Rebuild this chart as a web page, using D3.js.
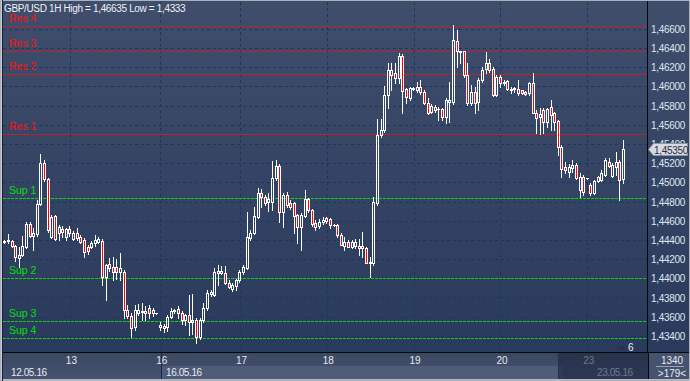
<!DOCTYPE html>
<html><head><meta charset="utf-8">
<script src="https://cdn.jsdelivr.net/npm/d3@7"></script>
<style>html,body{margin:0;padding:0;background:#3b4a67;overflow:hidden}svg{display:block}</style>
</head><body><svg id="c" width="690" height="381"></svg>
<script>
// ---- DATA ----
const opens=[1.44377,1.44388,1.44388,1.44335,1.44211,1.44242,1.44325,1.44564,1.44439,1.44460,1.44773,1.45201,1.45033,1.44429,1.44648,1.44471,1.44512,1.44429,1.44512,1.44408,1.44471,1.44429,1.44398,1.44325,1.44325,1.44367,1.44377,1.44388,1.44012,1.44147,1.44116,1.44116,1.44064,1.44064,1.43668,1.43606,1.43491,1.43637,1.43658,1.43637,1.43689,1.43668,1.43637,1.43491,1.43502,1.43491,1.43595,1.43658,1.43679,1.43637,1.43564,1.43616,1.43543,1.43564,1.43387,1.43564,1.43689,1.43835,1.43824,1.44054,1.44054,1.44054,1.43950,1.43887,1.43918,1.43981,1.44064,1.44106,1.44419,1.44471,1.44637,1.44888,1.44846,1.44794,1.44794,1.45044,1.45169,1.44690,1.44867,1.44783,1.44783,1.44658,1.44533,1.44648,1.44825,1.44710,1.44575,1.44543,1.44585,1.44627,1.44616,1.44554,1.44554,1.44450,1.44335,1.44377,1.44325,1.44335,1.44335,1.44335,1.44315,1.44158,1.44158,1.44783,1.45492,1.45544,1.45909,1.46117,1.46138,1.46086,1.46315,1.45971,1.45878,1.45971,1.45961,1.45992,1.45940,1.45825,1.45732,1.45784,1.45763,1.45763,1.45679,1.45836,1.45836,1.46472,1.46367,1.46367,1.46117,1.45825,1.45940,1.45836,1.46065,1.46180,1.46242,1.46180,1.45909,1.46096,1.46034,1.46054,1.45971,1.45971,1.45971,1.45961,1.45940,1.45930,1.46034,1.45721,1.45679,1.45753,1.45627,1.45784,1.45721,1.45638,1.45367,1.45158,1.45106,1.45148,1.45179,1.44919,1.45054,1.45044,1.44971,1.44888,1.45013,1.45023,1.45075,1.45211,1.45065,1.45158,1.45211,1.45033];
const highs=[1.44398,1.44460,1.44398,1.44346,1.44325,1.44439,1.44585,1.44585,1.44523,1.44815,1.45294,1.45232,1.45044,1.44658,1.44658,1.44554,1.44543,1.44523,1.44543,1.44491,1.44523,1.44450,1.44419,1.44346,1.44388,1.44450,1.44429,1.44408,1.44147,1.44211,1.44221,1.44200,1.44263,1.44085,1.43720,1.43637,1.43720,1.43731,1.43741,1.43710,1.43720,1.43689,1.43637,1.43543,1.43523,1.43616,1.43689,1.43679,1.43710,1.43658,1.43627,1.43824,1.43835,1.43585,1.43585,1.43741,1.43877,1.43877,1.44106,1.44137,1.44127,1.44127,1.43981,1.43950,1.43992,1.44085,1.44137,1.44690,1.44502,1.44742,1.44940,1.44929,1.44867,1.44888,1.45221,1.45232,1.45190,1.44888,1.44898,1.44815,1.44794,1.44669,1.44679,1.44919,1.44836,1.44721,1.44606,1.44616,1.44637,1.44637,1.44627,1.44564,1.44564,1.44471,1.44429,1.44398,1.44398,1.44408,1.44408,1.44481,1.44325,1.44221,1.44846,1.45659,1.45659,1.46003,1.46242,1.46242,1.46242,1.46347,1.46336,1.45982,1.45992,1.45992,1.46044,1.46065,1.45961,1.45878,1.45815,1.45805,1.45784,1.45773,1.45878,1.46044,1.46635,1.46586,1.46367,1.46367,1.46242,1.46013,1.45992,1.46086,1.46201,1.46357,1.46284,1.46201,1.46117,1.46117,1.46065,1.46065,1.45992,1.45992,1.46065,1.45961,1.45950,1.46044,1.46138,1.45753,1.45773,1.45773,1.45773,1.45857,1.45732,1.45648,1.45388,1.45211,1.45190,1.45232,1.45200,1.45096,1.45075,1.45044,1.44992,1.45023,1.45065,1.45127,1.45252,1.45252,1.45200,1.45315,1.45232,1.45440];
const lows=[1.44367,1.44367,1.44325,1.44179,1.44116,1.44231,1.44315,1.44429,1.44294,1.44439,1.44763,1.45013,1.44481,1.44419,1.44398,1.44398,1.44429,1.44398,1.44439,1.44398,1.44398,1.44367,1.44221,1.44252,1.44315,1.44335,1.44367,1.43929,1.43772,1.44075,1.43981,1.43992,1.43981,1.43585,1.43585,1.43387,1.43460,1.43616,1.43564,1.43564,1.43585,1.43606,1.43627,1.43460,1.43439,1.43450,1.43585,1.43637,1.43585,1.43523,1.43512,1.43408,1.43419,1.43330,1.43367,1.43543,1.43668,1.43814,1.43814,1.43929,1.44043,1.43939,1.43898,1.43866,1.43877,1.43960,1.44043,1.44095,1.44398,1.44460,1.44627,1.44742,1.44763,1.44700,1.44710,1.45023,1.44585,1.44533,1.44742,1.44721,1.44471,1.44367,1.44294,1.44637,1.44690,1.44543,1.44502,1.44523,1.44564,1.44575,1.44523,1.44543,1.44429,1.44346,1.44294,1.44325,1.44315,1.44315,1.44242,1.44221,1.44158,1.44012,1.44137,1.44763,1.45471,1.45523,1.45773,1.45961,1.46034,1.46034,1.45721,1.45825,1.45857,1.45961,1.45940,1.45919,1.45815,1.45711,1.45721,1.45732,1.45648,1.45648,1.45617,1.45627,1.45815,1.46201,1.46242,1.46096,1.45805,1.45805,1.45721,1.45753,1.46044,1.46138,1.46149,1.45898,1.45898,1.45992,1.46013,1.45961,1.45930,1.45940,1.45909,1.45919,1.45909,1.45909,1.45721,1.45513,1.45502,1.45513,1.45575,1.45544,1.45544,1.45284,1.45054,1.45096,1.45054,1.45106,1.45033,1.44846,1.44867,1.45033,1.44867,1.44877,1.45008,1.45013,1.45065,1.45158,1.45054,1.45075,1.44815,1.44992];
const closes=[1.44388,1.44398,1.44335,1.44221,1.44242,1.44335,1.44564,1.44439,1.44471,1.44773,1.45201,1.45033,1.44502,1.44637,1.44408,1.44533,1.44481,1.44512,1.44471,1.44471,1.44419,1.44377,1.44273,1.44283,1.44367,1.44398,1.44408,1.44012,1.44137,1.44106,1.44064,1.44064,1.44106,1.43668,1.43606,1.43481,1.43668,1.43668,1.43647,1.43658,1.43637,1.43637,1.43637,1.43512,1.43481,1.43595,1.43658,1.43668,1.43637,1.43564,1.43616,1.43543,1.43564,1.43387,1.43564,1.43689,1.43845,1.43856,1.44064,1.44075,1.44075,1.43950,1.43908,1.43929,1.43981,1.44064,1.44116,1.44429,1.44471,1.44648,1.44888,1.44846,1.44783,1.44825,1.45044,1.45169,1.44690,1.44867,1.44763,1.44742,1.44648,1.44533,1.44658,1.44825,1.44710,1.44564,1.44533,1.44585,1.44606,1.44596,1.44554,1.44554,1.44450,1.44346,1.44377,1.44325,1.44377,1.44377,1.44315,1.44315,1.44158,1.44169,1.44794,1.45492,1.45544,1.45909,1.46169,1.46169,1.46086,1.46315,1.45951,1.45888,1.45982,1.45982,1.45992,1.45940,1.45825,1.45721,1.45794,1.45753,1.45763,1.45679,1.45857,1.45857,1.46482,1.46367,1.46362,1.46117,1.45825,1.45940,1.45825,1.46065,1.46169,1.46242,1.46169,1.45909,1.46096,1.46034,1.46044,1.45971,1.45966,1.45982,1.45930,1.45930,1.45919,1.46034,1.45721,1.45669,1.45711,1.45627,1.45763,1.45700,1.45627,1.45367,1.45138,1.45127,1.45158,1.45179,1.45044,1.45054,1.44898,1.45040,1.44888,1.45013,1.45054,1.45096,1.45232,1.45169,1.45179,1.45211,1.45023,1.45350];
const priceTicks=[1.434,1.436,1.438,1.440,1.442,1.444,1.446,1.448,1.450,1.452,1.454,1.456,1.458,1.460,1.462,1.464,1.466];
const dayTickIndex=[18,43,65,89,113,137,161];
const dayTickLabels=["13","16","17","18","19","20","23"];
const levelNames=["Res 4","Res 3","Res 2","Res 1","Sup 1","Sup 2","Sup 3","Sup 4"];
const levelValues=[1.4663,1.4637,1.4613,1.4550,1.4484,1.4400,1.4355,1.4338];
const lastPrice=1.45350;
const titleText="GBP/USD 1H High = 1,46635 Low = 1,4333";

// ---- LAYOUT ----
const svg=d3.select('#c');
const P={x0:3,x1:647,y0:2,y1:352};
const x=d3.scaleLinear().domain([-0.5,177.5]).range([P.x0,P.x1]);
const y=d3.scaleLinear().domain([1.434,1.466]).range([335.9,28.7]);
const fmt=v=>v.toFixed(5).replace('.',',');
const FONT='"Liberation Sans", Arial, sans-serif';

const defs=svg.append('defs');
const g1=defs.append('linearGradient').attr('id','bg').attr('x1',0).attr('y1',0).attr('x2',0).attr('y2',1);
g1.append('stop').attr('offset','0%').attr('stop-color','#3f4e6b');
g1.append('stop').attr('offset','100%').attr('stop-color','#2a3a5c');
const g2=defs.append('linearGradient').attr('id','bb').attr('x1',0).attr('y1',0).attr('x2',0).attr('y2',1);
g2.append('stop').attr('offset','0%').attr('stop-color','#3a4864');
g2.append('stop').attr('offset','100%').attr('stop-color','#45536f');
defs.append('clipPath').attr('id','clip').append('rect').attr('x',P.x0).attr('y',P.y0).attr('width',P.x1-P.x0).attr('height',P.y1-P.y0);

svg.append('rect').attr('width',690).attr('height',381).attr('fill','#3b4a67');
svg.append('rect').attr('x',P.x0).attr('y',0).attr('width',690-P.x0).attr('height',P.y1).attr('fill','url(#bg)');

const plot=svg.append('g').attr('clip-path','url(#clip)');
// grid
plot.selectAll('.hg').data(priceTicks).join('line')
 .attr('x1',P.x0).attr('x2',P.x1)
 .attr('y1',d=>Math.round(y(d))+0.5).attr('y2',d=>Math.round(y(d))+0.5)
 .attr('stroke','#1c3564').attr('stroke-width',1).attr('stroke-dasharray','3,3');
plot.selectAll('.vg').data(dayTickIndex).join('line')
 .attr('x1',d=>Math.round(x(d))+0.5).attr('x2',d=>Math.round(x(d))+0.5)
 .attr('y1',P.y0).attr('y2',P.y1)
 .attr('stroke','#1c3564').attr('stroke-width',1).attr('stroke-dasharray','3,3');
// levels
const lvColor=i=>i<4?'#ff1010':'#00e000';
plot.selectAll('.lv').data(levelValues).join('line')
 .attr('x1',P.x0).attr('x2',P.x1)
 .attr('y1',d=>Math.round(y(d))+0.5).attr('y2',d=>Math.round(y(d))+0.5)
 .attr('stroke',(d,i)=>i<4?'#e01818':'#10d010').attr('stroke-width',1).attr('stroke-dasharray','3,1');
plot.selectAll('.lvt').data(levelValues).join('text')
 .attr('x',9).attr('y',d=>Math.round(y(d))-4)
 .attr('fill',(d,i)=>lvColor(i)).attr('font-family',FONT).attr('font-size','10.5px')
 .text((d,i)=>levelNames[i]);

// candles
const candles=opens.map((o,i)=>({i,o,h:highs[i],l:lows[i],c:closes[i]}));
const cg=plot.selectAll('.cd').data(candles).join('g');
cg.each(function(d){
  const g=d3.select(this);
  const c=Math.floor(x(d.i));
  const top=Math.round(Math.min(y(d.o),y(d.c)));
  const bot=Math.round(Math.max(y(d.o),y(d.c)));
  const yh=Math.round(y(d.h)), yl=Math.round(y(d.l));
  const bear=d.c<d.o;
  if(yh<top) g.append('line').attr('x1',c+0.5).attr('x2',c+0.5).attr('y1',yh).attr('y2',top+0.5).attr('stroke','#fff');
  if(yl>bot) g.append('line').attr('x1',c+0.5).attr('x2',c+0.5).attr('y1',bot+0.5).attr('y2',yl+1).attr('stroke','#fff');
  if(bot-top<1){
    g.append('line').attr('x1',c-1).attr('x2',c+2).attr('y1',top+0.5).attr('y2',top+0.5).attr('stroke','#fff');
  } else {
    g.append('rect').attr('x',c-0.5).attr('width',2).attr('y',top+0.5).attr('height',bot-top)
     .attr('fill',bear?'#ff0000':'none').attr('stroke','#fff').attr('stroke-width',1);
  }
});

// "6" marker
svg.append('path').attr('d','M617,350 L622,345 L627,350 Z').attr('fill','#26334f');
svg.append('text').attr('x',628).attr('y',351).attr('fill','#e8ecf2').attr('font-family',FONT).attr('font-size','10px').text('6');

// right axis
svg.append('line').attr('x1',647.5).attr('x2',647.5).attr('y1',0).attr('y2',381).attr('stroke','#05070c');
svg.selectAll('.yt').data(priceTicks).join('text')
 .attr('x',651).attr('y',d=>y(d)+4)
 .attr('fill','#dfe6f2').attr('font-family',FONT).attr('font-size','10px').attr('letter-spacing','-0.3px')
 .text(d=>fmt(d));
const ly=Math.round(y(lastPrice));
svg.append('path').attr('d',`M648.5,${ly+0.5} L653.5,${ly-5.5} L687.5,${ly-5.5} L687.5,${ly+6.5} L653.5,${ly+6.5} Z`)
 .attr('fill','#d6dae2').attr('stroke','#8a93a3');
svg.append('text').attr('x',654).attr('y',ly+4.5).attr('fill','#2a2f3a').attr('font-family',FONT).attr('font-size','10px').attr('letter-spacing','-0.3px').text(fmt(lastPrice));

// bottom panel
svg.append('rect').attr('x',P.x0).attr('y',P.y1+1).attr('width',690-P.x0).attr('height',381-P.y1-1).attr('fill','url(#bb)');
svg.append('rect').attr('x',162).attr('y',366).attr('width',400).attr('height',15).attr('fill','#4e5c79');
svg.append('line').attr('x1',161.5).attr('x2',161.5).attr('y1',P.y1+1).attr('y2',381).attr('stroke','#1e2a44');
svg.append('line').attr('x1',0).attr('x2',690).attr('y1',P.y1+0.5).attr('y2',P.y1+0.5).attr('stroke','#05070c');
svg.selectAll('.xt').data(dayTickIndex).join('text')
 .attr('x',d=>x(d)+1.5).attr('y',364).attr('text-anchor','middle')
 .attr('fill','#e6eaf2').attr('font-family',FONT).attr('font-size','10px')
 .text((d,i)=>dayTickLabels[i]);
svg.append('text').attr('x',11).attr('y',376).attr('fill','#e6eaf2').attr('font-family',FONT).attr('font-size','10px').attr('letter-spacing','-0.4px').text('12.05.16');
svg.append('text').attr('x',166).attr('y',376).attr('fill','#e6eaf2').attr('font-family',FONT).attr('font-size','10px').attr('letter-spacing','-0.4px').text('16.05.16');
svg.append('text').attr('x',597).attr('y',376).attr('fill','#e6eaf2').attr('font-family',FONT).attr('font-size','10px').attr('letter-spacing','-0.4px').text('23.05.16');
svg.append('rect').attr('x',558).attr('y',P.y1+1).attr('width',90).attr('height',381-P.y1-1).attr('fill','#1c2740').attr('opacity',0.6);
svg.append('line').attr('x1',558.5).attr('x2',558.5).attr('y1',P.y1+1).attr('y2',381).attr('stroke','#27334d');
svg.append('rect').attr('x',648).attr('y',P.y1+1).attr('width',42).attr('height',381-P.y1-1).attr('fill','#45536f');
svg.append('line').attr('x1',648.5).attr('x2',648.5).attr('y1',P.y1).attr('y2',381).attr('stroke','#05070c');
svg.append('text').attr('x',672).attr('y',363.5).attr('text-anchor','middle').attr('fill','#e6eaf2').attr('font-family',FONT).attr('font-size','10px').text('1340');
svg.append('line').attr('x1',656).attr('x2',684).attr('y1',366.5).attr('y2',366.5).attr('stroke','#9aa3b5');
svg.append('text').attr('x',672).attr('y',377).attr('text-anchor','middle').attr('fill','#e6eaf2').attr('font-family',FONT).attr('font-size','10px').text('>179<');

// title
svg.append('text').attr('x',4).attr('y',12).attr('fill','#eef0f4').attr('font-family',FONT).attr('font-size','10px').attr('letter-spacing','-0.35px').text(titleText);

// frame
svg.append('rect').attr('x',0.5).attr('y',0.5).attr('width',689).attr('height',380).attr('fill','none').attr('stroke','#aab1bd');
svg.append('line').attr('x1',0).attr('x2',690).attr('y1',379.5).attr('y2',379.5).attr('stroke','#b4bac5');
svg.append('line').attr('x1',1.5).attr('x2',1.5).attr('y1',0).attr('y2',381).attr('stroke','#c4c9d2');
svg.append('line').attr('x1',2.5).attr('x2',2.5).attr('y1',0).attr('y2',381).attr('stroke','#1a2236');
</script></body></html>
